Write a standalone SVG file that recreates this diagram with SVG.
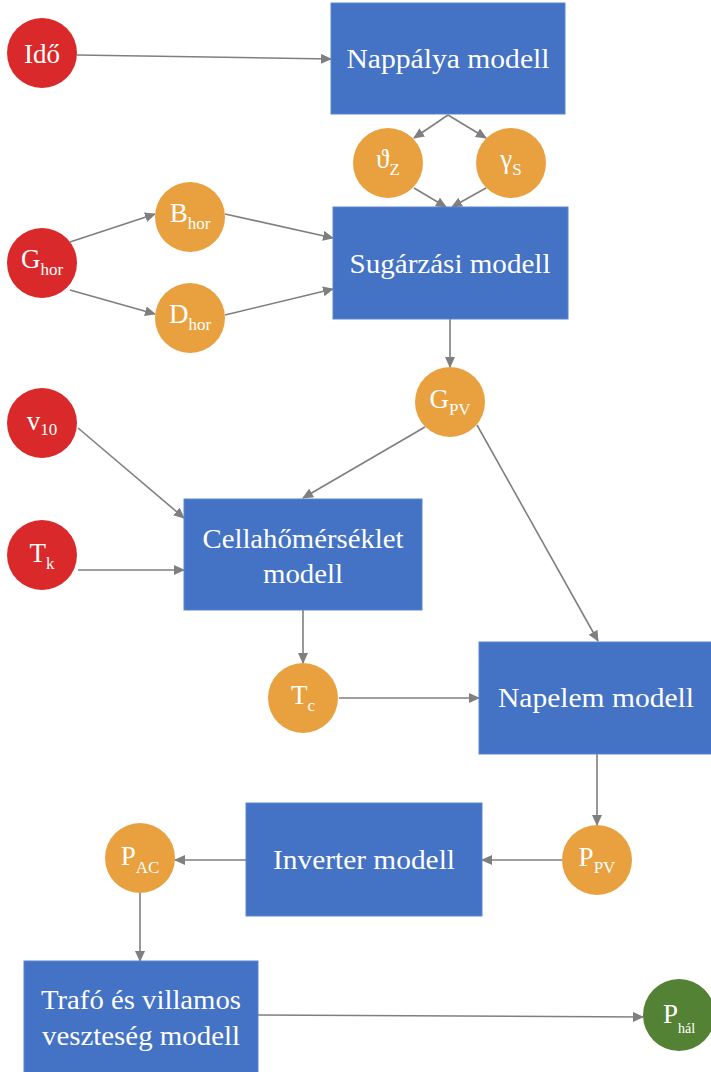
<svg xmlns="http://www.w3.org/2000/svg" width="711" height="1072" viewBox="0 0 711 1072">
<style>
.box{fill:#4472C4;stroke:#5B86D0;stroke-width:1}
.red{fill:#D9292A}
.org{fill:#E9A03E}
.grn{fill:#548235}
.lbl{font-family:"Liberation Serif",serif;fill:#fff;text-anchor:middle}
.bt{font-size:27px}
.ct{font-size:27px}
.sub{font-size:17px}
.con line{stroke:#7F7F7F;stroke-width:1.6;marker-end:url(#ah)}
</style>
<defs>
<marker id="ah" markerUnits="userSpaceOnUse" markerWidth="11" markerHeight="10" refX="10" refY="5" orient="auto">
<path d="M0,0 L11,5 L0,10 z" fill="#7F7F7F"/>
</marker>
</defs>
<rect width="711" height="1072" fill="#fff"/>
<g class="con">
<line x1="77" y1="55" x2="331" y2="59"/>
<line x1="448" y1="115" x2="414" y2="138"/>
<line x1="448" y1="115" x2="486" y2="138"/>
<line x1="414" y1="188" x2="446" y2="207"/>
<line x1="486" y1="188" x2="452" y2="207"/>
<line x1="70" y1="242" x2="155" y2="214"/>
<line x1="70" y1="290" x2="155" y2="314"/>
<line x1="225" y1="214" x2="333" y2="238"/>
<line x1="225" y1="315" x2="333" y2="289"/>
<line x1="450" y1="319" x2="450" y2="367"/>
<line x1="425" y1="427" x2="303" y2="498"/>
<line x1="477" y1="425" x2="598" y2="641"/>
<line x1="78" y1="428" x2="184" y2="518"/>
<line x1="78" y1="570" x2="184" y2="570"/>
<line x1="303" y1="610" x2="303" y2="663"/>
<line x1="339" y1="698" x2="479" y2="698"/>
<line x1="597" y1="754" x2="597" y2="825"/>
<line x1="562" y1="860" x2="482" y2="860"/>
<line x1="246" y1="860" x2="175" y2="860"/>
<line x1="140" y1="893" x2="140" y2="961"/>
<line x1="258" y1="1015" x2="643" y2="1017"/>
</g>
<g id="nappalya"><rect class="box" x="331" y="3" width="234" height="111"/><text class="lbl bt" x="448" y="68" textLength="203" lengthAdjust="spacingAndGlyphs">Nappálya modell</text></g>
<g id="sugarzasi"><rect class="box" x="333" y="207" width="235" height="112"/><text class="lbl bt" x="450" y="273" textLength="201" lengthAdjust="spacingAndGlyphs">Sugárzási modell</text></g>
<g id="cella"><rect class="box" x="184" y="499" width="238" height="111"/><text class="lbl bt" x="303" y="548" textLength="201" lengthAdjust="spacingAndGlyphs">Cellahőmérséklet</text><text class="lbl bt" x="303" y="583" textLength="80" lengthAdjust="spacingAndGlyphs">modell</text></g>
<g id="napelem"><rect class="box" x="479" y="642" width="233" height="112"/><text class="lbl bt" x="596" y="707" textLength="196" lengthAdjust="spacingAndGlyphs">Napelem modell</text></g>
<g id="inverter"><rect class="box" x="246" y="803" width="236" height="113"/><text class="lbl bt" x="364" y="869" textLength="182" lengthAdjust="spacingAndGlyphs">Inverter modell</text></g>
<g id="trafo"><rect class="box" x="24" y="961" width="234" height="112"/><text class="lbl bt" x="141" y="1009" textLength="200" lengthAdjust="spacingAndGlyphs">Trafó és villamos</text><text class="lbl bt" x="141" y="1045" textLength="198" lengthAdjust="spacingAndGlyphs">veszteség modell</text></g>
<g id="ido"><circle class="red" cx="42" cy="53" r="35"/><text class="lbl ct" x="42" y="63">Idő</text></g>
<g id="ghor"><circle class="red" cx="42" cy="263" r="35"/><text class="lbl ct" x="42" y="268">G<tspan class="sub" dy="7">hor</tspan></text></g>
<g id="bhor"><circle class="org" cx="190" cy="217" r="35"/><text class="lbl ct" x="190" y="222">B<tspan class="sub" dy="7">hor</tspan></text></g>
<g id="dhor"><circle class="org" cx="190" cy="318" r="35"/><text class="lbl ct" x="190" y="323">D<tspan class="sub" dy="7">hor</tspan></text></g>
<g id="thetaz"><circle class="org" cx="388" cy="163" r="35"/><text class="lbl ct" x="388" y="168">ϑ<tspan class="sub" dy="7">Z</tspan></text></g>
<g id="gammas"><circle class="org" cx="511" cy="163" r="35"/><text class="lbl ct" x="511" y="168">γ<tspan class="sub" dy="7">S</tspan></text></g>
<g id="gpv"><circle class="org" cx="450" cy="402" r="35"/><text class="lbl ct" x="450" y="408">G<tspan class="sub" dy="7">PV</tspan></text></g>
<g id="v10"><circle class="red" cx="42" cy="423" r="35"/><text class="lbl ct" x="42" y="430">v<tspan class="sub" dy="5">10</tspan></text></g>
<g id="tk"><circle class="red" cx="42" cy="555" r="35"/><text class="lbl ct" x="42" y="562">T<tspan class="sub" dy="7">k</tspan></text></g>
<g id="tc"><circle class="org" cx="303" cy="698" r="35"/><text class="lbl ct" x="303" y="704">T<tspan class="sub" dy="7">c</tspan></text></g>
<g id="ppv"><circle class="org" cx="597" cy="860" r="35"/><text class="lbl ct" x="597" y="866">P<tspan class="sub" dy="7">PV</tspan></text></g>
<g id="pac"><circle class="org" cx="140" cy="858" r="35"/><text class="lbl ct" x="140" y="865">P<tspan class="sub" dy="8">AC</tspan></text></g>
<g id="phal"><circle class="grn" cx="679" cy="1015" r="36"/><text class="lbl ct" x="679" y="1023">P<tspan class="sub" dy="10" style="font-size:14px">hál</tspan></text></g>
</svg>
